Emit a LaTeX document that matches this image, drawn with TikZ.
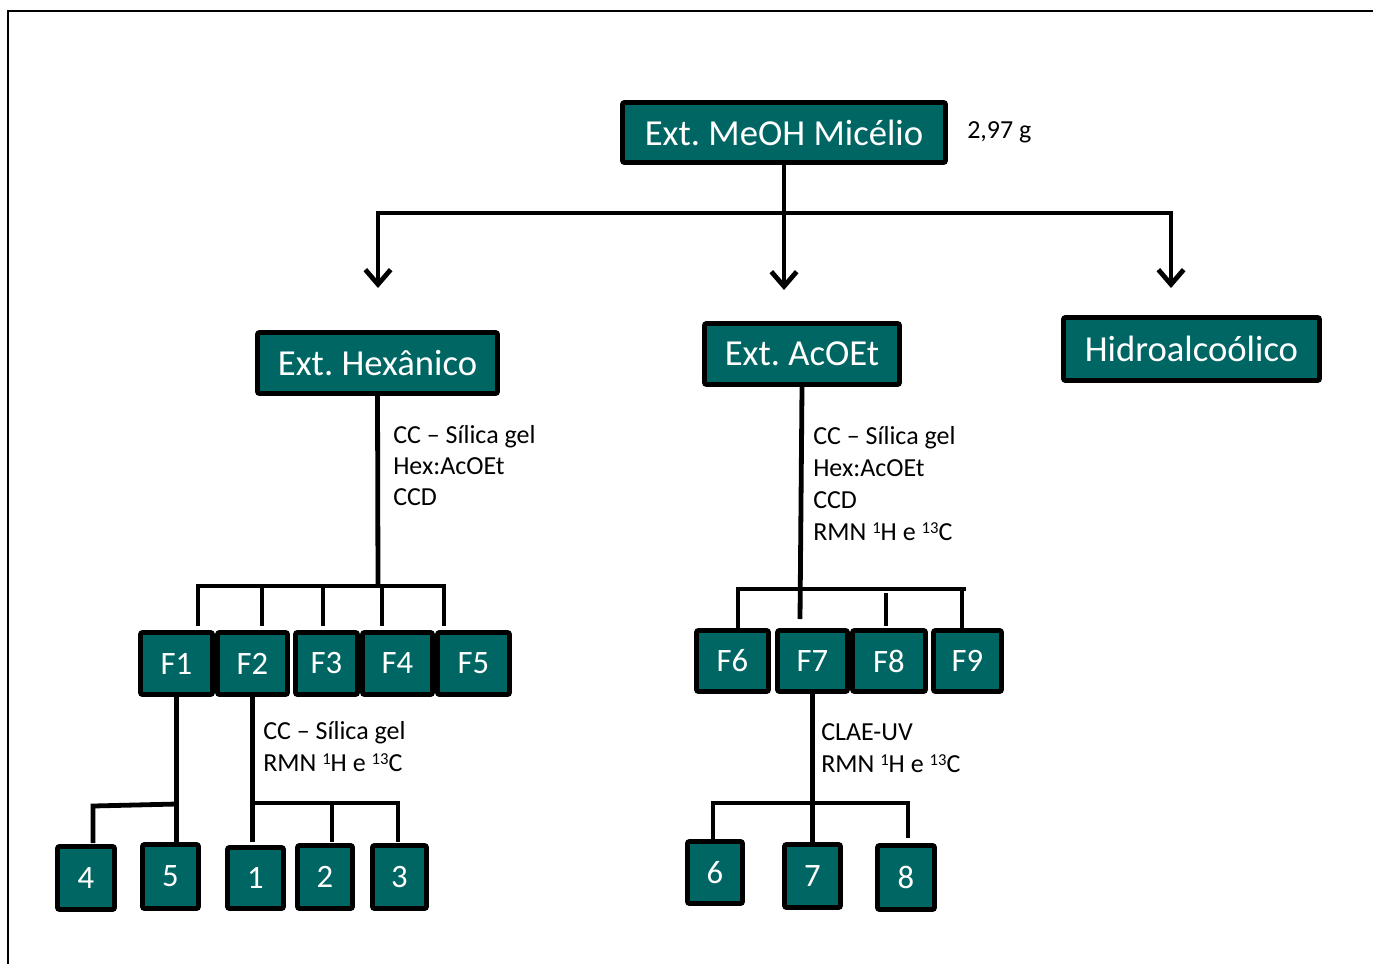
\documentclass[tikz,border=0pt]{standalone}
\usepackage{fontspec}
\setmainfont{Carlito}
\usetikzlibrary{arrows.meta}
\definecolor{tealbox}{RGB}{0,102,100}
\frenchspacing
\newcommand{\supx}[1]{\raisebox{4.6pt}{\fontsize{12.5}{12.5}\selectfont #1}}
\tikzset{
  tbox/.style={draw=black, fill=tealbox, line width=3.6pt, text=white, inner sep=0pt,
    rounded corners=1.5pt, font=\fontsize{27.5}{33}\selectfont},
  fbox/.style={tbox, font=\fontsize{24.5}{29}\selectfont},
  wh/.style 2 args={minimum width=#1*0.75pt, minimum height=#2*0.75pt},
  lbl/.style={anchor=base west, inner sep=0pt, font=\fontsize{19.5}{24}\selectfont},
  conn/.style={line width=3.6pt},
  barb/.tip={Straight Barb[length=11pt, width=19pt]},
  arr/.style={conn, -barb}
}
\begin{document}
\begin{tikzpicture}[x=0.75pt,y=-0.75pt]
\useasboundingbox (0,0) rectangle (1373,964);
% frame
\draw[line width=2.2pt] (8,964) -- (8,11) -- (1373,11);

% main boxes
\node[tbox, wh={323}{60}] (top) at (784,132.5) {Ext. MeOH Micélio};
\node[lbl] (mass) at (967,138) {2,97 g};
\node[tbox, wh={240}{61}] (hex) at (377.5,363) {Ext. Hexânico};
\node[tbox, wh={195}{61}] (aco) at (802,354) {Ext. AcOEt};
\node[tbox, wh={256}{63}] (hid) at (1191.5,349) {Hidroalcoólico};

% fractions
\node[fbox, wh={72}{62}] (F1) at (176.5,663.5) {F1};
\node[fbox, wh={70}{62}] (F2) at (252.5,663.5) {F2};
\node[fbox, wh={62}{62}] (F3) at (326.5,663.5) {F3};
\node[fbox, wh={70}{62}] (F4) at (397.5,663.5) {F4};
\node[fbox, wh={72}{62}] (F5) at (473.5,663.5) {F5};
\node[fbox, wh={72}{61}] (F6) at (732.5,661) {F6};
\node[fbox, wh={70}{61}] (F7) at (812.5,661) {F7};
\node[fbox, wh={73}{61}] (F8) at (889,661) {F8};
\node[fbox, wh={68}{61}] (F9) at (967.5,661) {F9};

% compounds
\node[fbox, wh={57}{63}] (c4) at (86,878) {4};
\node[fbox, wh={56}{64}] (c5) at (170.5,876.5) {5};
\node[fbox, wh={56}{61}] (c1) at (255.5,878) {1};
\node[fbox, wh={55}{63}] (c2) at (325,877) {2};
\node[fbox, wh={54}{63}] (c3) at (399.5,877) {3};
\node[fbox, wh={55}{62}] (c6) at (715,872.5) {6};
\node[fbox, wh={56}{63}] (c7) at (812.5,876) {7};
\node[fbox, wh={57}{64}] (c8) at (906,877.5) {8};

% labels
\node[lbl] (h1) at (393,443) {CC – Sílica gel};
\node[lbl] (h2) at (393,474) {Hex:AcOEt};
\node[lbl] (h3) at (393,505) {CCD};
\node[lbl] (a1) at (813,444) {CC – Sílica gel};
\node[lbl] (a2) at (813,476) {Hex:AcOEt};
\node[lbl] (a3) at (813,508) {CCD};
\node[lbl] (a4) at (813,540) {RMN \supx{1}H e \supx{13}C};
\node[lbl] (f21) at (263,739) {CC – Sílica gel};
\node[lbl] (f22) at (263,771) {RMN \supx{1}H e \supx{13}C};
\node[lbl] (f71) at (821,740) {CLAE-UV};
\node[lbl] (f72) at (821,772) {RMN \supx{1}H e \supx{13}C};

% top connectors
\coordinate (tL) at (378,288);
\coordinate (tM) at (784,290);
\coordinate (tR) at (1171,288);
\draw[arr] (top.south) -- (tM);
\draw[conn, barb-barb] (tL) |- (784,213) -| (tR);

% hexane branch
\draw[conn] (hex.south) -- (378,586);
\draw[conn] (198,626) |- (444,586) -- (444,626);
\draw[conn] (262,586) -- (262,626);
\draw[conn] (323,586) -- (323,626);
\draw[conn] (382,586) -- (382,626);

% AcOEt branch
\draw[conn] (aco.south) -- (800,619);
\draw[conn] (738,628) |- (966,589);
\draw[conn] (962,589) -- (962,628);
\draw[conn] (886,593) -- (886,626);

% F1 branch
\draw[conn] (F1.south) -- (F1.south |- c5.north);
\draw[conn] (177,804) -- (93,806) -- (93,843);

% F2 branch
\draw[conn] (F2.south) -- (252.5,842);
\draw[conn] (252.5,803) -| (398,842);
\draw[conn] (332,803) -- (332,842);

% F7 branch
\draw[conn] (F7.south) -- (c7.north);
\draw[conn] (713,839) |- (908,803) -- (908,838);
\end{tikzpicture}
\end{document}
